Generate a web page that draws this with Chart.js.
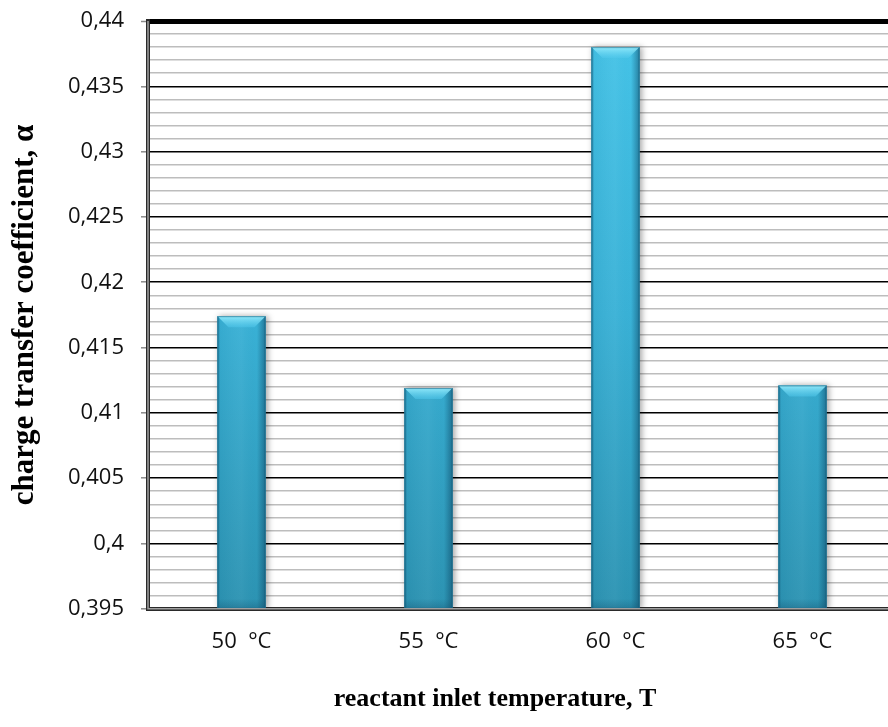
<!DOCTYPE html>
<html>
<head>
<meta charset="utf-8">
<script src="https://cdn.jsdelivr.net/npm/chart.js@4"></script>
<style>
  html, body { margin: 0; padding: 0; background: #fff; overflow: hidden; }
  #wrap { width: 990px; height: 727px; }
</style>
</head>
<body>
<div id="wrap"><canvas id="chart"></canvas></div>
<script>
const categories = ['50  °C', '55  °C', '60  °C', '65  °C'];
const alphaValues = [0.4174, 0.4119, 0.4380, 0.4121];
const yMin = 0.395;
const yMax = 0.44;
const yMinorStep = 0.001;
const yMajorEvery = 5; // one black line every 5 minor steps

const SERIF = '"Liberation Serif", "Times New Roman", serif';
const SANS = '"Open Sans", "Liberation Sans", sans-serif';

const thousandths = (v) => Math.round(v * 1000);
const isMajor = (v) => thousandths(v) % yMajorEvery === 0;
const isTop = (v) => thousandths(v) === thousandths(yMax);

function bodyGradient(context) {
  const { chart } = context;
  const area = chart.chartArea;
  if (!area) return '#3bb5da';
  const g = chart.ctx.createLinearGradient(0, area.top, 0, area.bottom);
  g.addColorStop(0, '#45c4e8');
  g.addColorStop(0.5, '#39b1d6');
  g.addColorStop(1, '#2c93b2');
  return g;
}

// soft halo under the bars plus bevel shading on top of them
const bevelBars = {
  id: 'bevelBars',
  beforeDatasetsDraw(chart) {
    const { ctx, chartArea: a } = chart;
    const meta = chart.getDatasetMeta(0);
    ctx.save();
    ctx.beginPath();
    ctx.rect(a.left, a.top, a.right - a.left, a.bottom - a.top);
    ctx.clip();
    ctx.shadowColor = 'rgba(0,0,0,0.35)';
    ctx.shadowBlur = 6;
    ctx.shadowOffsetX = 2;
    ctx.fillStyle = '#2c93b2';
    meta.data.forEach((bar) => {
      const w = bar.width;
      const b = Math.min(bar.base, a.bottom);
      ctx.fillRect(bar.x - w / 2, bar.y, w, b - bar.y);
    });
    ctx.restore();
  },
  afterDatasetsDraw(chart) {
    const { ctx, chartArea: a } = chart;
    const meta = chart.getDatasetMeta(0);
    ctx.save();
    ctx.beginPath();
    ctx.rect(a.left, a.top, a.right - a.left, a.bottom - a.top);
    ctx.clip();
    meta.data.forEach((bar) => {
      const w = bar.width;
      const l = bar.x - w / 2;
      const r = bar.x + w / 2;
      const t = bar.y;
      const b = Math.min(bar.base, a.bottom);
      const bev = 11;

      // side shading
      const side = ctx.createLinearGradient(l, 0, r, 0);
      side.addColorStop(0, 'rgba(10,70,100,0.45)');
      side.addColorStop(0.06, 'rgba(10,70,100,0.05)');
      side.addColorStop(0.5, 'rgba(255,255,255,0.04)');
      side.addColorStop(0.82, 'rgba(10,70,100,0.0)');
      side.addColorStop(1, 'rgba(10,60,90,0.5)');
      ctx.fillStyle = side;
      ctx.fillRect(l, t, w, b - t);

      // darker foot
      const foot = ctx.createLinearGradient(0, b - 10, 0, b);
      foot.addColorStop(0, 'rgba(20,80,110,0)');
      foot.addColorStop(1, 'rgba(20,80,110,0.35)');
      ctx.fillStyle = foot;
      ctx.fillRect(l, b - 10, w, 10);

      // top bevel
      const cap = ctx.createLinearGradient(0, t, 0, t + bev);
      cap.addColorStop(0, 'rgba(150,236,252,0.95)');
      cap.addColorStop(1, 'rgba(80,200,236,0.5)');
      ctx.fillStyle = cap;
      ctx.beginPath();
      ctx.moveTo(l, t);
      ctx.lineTo(r, t);
      ctx.lineTo(r - bev, t + bev);
      ctx.lineTo(l + bev, t + bev);
      ctx.closePath();
      ctx.fill();

      ctx.strokeStyle = 'rgba(20,90,120,0.55)';
      ctx.lineWidth = 1;
      ctx.strokeRect(l + 0.5, t + 0.5, w - 1, b - t - 1);
    });
    ctx.restore();
  }
};

// light inner line along the left and bottom axes
const axisFrame = {
  id: 'axisFrame',
  afterDraw(chart) {
    const { ctx, chartArea: a } = chart;
    ctx.save();
    ctx.strokeStyle = '#a0a0a0';
    ctx.lineWidth = 1.5;
    ctx.beginPath();
    ctx.moveTo(a.left, a.top);
    ctx.lineTo(a.left, a.bottom);
    ctx.lineTo(chart.width, a.bottom);
    ctx.stroke();
    ctx.restore();
  }
};

const noOverhang = (s) => { s.paddingTop = 0; s.paddingBottom = 0; };

new Chart(document.getElementById('chart'), {
  type: 'bar',
  data: {
    labels: categories,
    datasets: [{
      data: alphaValues,
      backgroundColor: bodyGradient,
      borderWidth: 0,
      barPercentage: 0.257,
      categoryPercentage: 1
    }]
  },
  options: {
    responsive: true,
    maintainAspectRatio: false,
    animation: false,
    layout: { padding: { top: 21, left: 0, right: 0, bottom: 0 } },
    plugins: {
      legend: { display: false },
      tooltip: { enabled: false },
      title: {
        display: true,
        position: 'bottom',
        text: 'reactant inlet temperature, T',
        color: '#000',
        font: { family: SERIF, size: 26, weight: 'bold' },
        padding: { top: 0, bottom: 12 }
      }
    },
    scales: {
      x: {
        grid: { display: true, color: 'rgba(0,0,0,0)', drawTicks: false },
        border: { display: true, color: '#2a2a2a', width: 4 },
        ticks: { color: '#111', font: { family: SANS, size: 22 }, padding: 20 },
        afterFit: (s) => { s.height = 75; }
      },
      y: {
        min: yMin,
        max: yMax,
        grid: {
          color: (c) => (c.tick && isMajor(c.tick.value) ? '#000' : '#bdbdbd'),
          lineWidth: (c) => (c.tick && isTop(c.tick.value) ? 5 : 1.6),
          tickColor: (c) => (c.tick && isMajor(c.tick.value) ? '#8a8a8a' : 'rgba(0,0,0,0)'),
          tickLength: 7,
          tickWidth: 1.5
        },
        border: { display: true, color: '#2a2a2a', width: 4 },
        ticks: {
          stepSize: yMinorStep,
          autoSkip: false,
          padding: 17,
          color: '#111',
          font: { family: SANS, size: 22 },
          callback: (v) => (isMajor(v) ? String(thousandths(v) / 1000).replace('.', ',') : '')
        },
        title: {
          display: true,
          text: 'charge transfer coefficient, α',
          color: '#000',
          font: { family: SERIF, size: 31, weight: 'bold' },
          padding: { top: 6, bottom: 0 }
        },
        afterFit: (s) => { s.width = 148; noOverhang(s); }
      },
      spare: {
        type: 'linear',
        position: 'right',
        grid: { display: false },
        border: { display: false },
        ticks: { display: false },
        afterFit: (s) => { s.width = 94; noOverhang(s); }
      }
    }
  },
  plugins: [bevelBars, axisFrame]
});
</script>
</body>
</html>
